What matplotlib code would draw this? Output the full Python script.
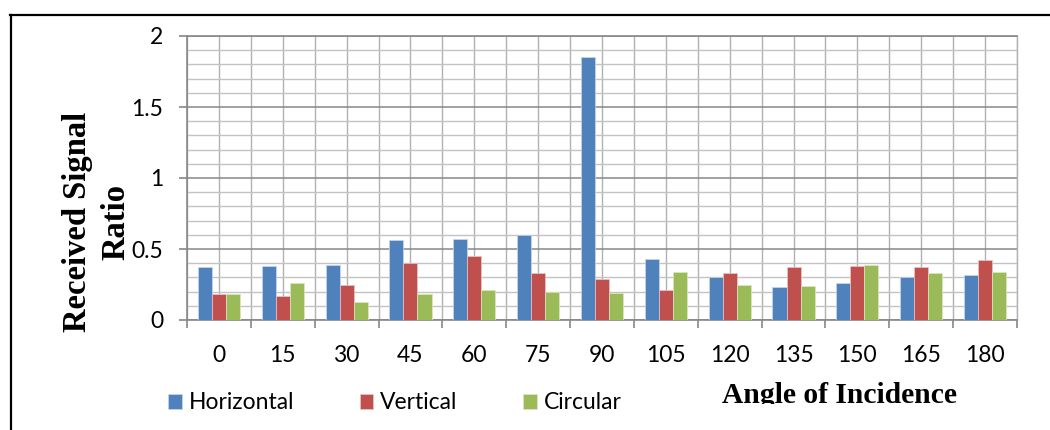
import numpy as np
import matplotlib.pyplot as plt
from matplotlib.lines import Line2D
from matplotlib.patches import Rectangle

# Data
angles = ['0', '15', '30', '45', '60', '75', '90', '105', '120', '135', '150', '165', '180']
horizontal = [0.37, 0.38, 0.39, 0.56, 0.57, 0.60, 1.85, 0.43, 0.30, 0.23, 0.26, 0.30, 0.32]
vertical = [0.18, 0.17, 0.25, 0.40, 0.45, 0.33, 0.29, 0.21, 0.33, 0.37, 0.38, 0.37, 0.42]
circular = [0.18, 0.26, 0.13, 0.18, 0.21, 0.20, 0.19, 0.34, 0.25, 0.24, 0.39, 0.33, 0.34]

plt.rcParams['font.family'] = ['Lato', 'DejaVu Sans']

fig = plt.figure(figsize=(10.5, 4.3), dpi=100)
ax = fig.add_axes([187 / 1050, 110 / 430, 830 / 1050, 284 / 430])

x = np.arange(len(angles))
w = 0.22
ax.bar(x - w, horizontal, w, color='#4F81BD', edgecolor='#c9d7ea', linewidth=0.5, label='Horizontal', zorder=3)
ax.bar(x, vertical, w, color='#C0504D', edgecolor='#e9c6c5', linewidth=0.5, label='Vertical', zorder=3)
ax.bar(x + w, circular, w, color='#9BBB59', edgecolor='#dbe7c6', linewidth=0.5, label='Circular', zorder=3)

ax.set_xlim(-0.5, len(angles) - 0.5)
ax.set_ylim(0, 2)

# y axis: major 0.5 steps with labels, minor 0.1 steps as grid
ax.set_yticks(np.arange(0, 2.01, 0.5))
ax.set_yticklabels(['0', '0.5', '1', '1.5', '2'])
ax.set_yticks(np.arange(0, 2.01, 0.1), minor=True)

# x axis: tick marks on category borders, labels at centres
ax.set_xticks(np.arange(-0.5, len(angles), 1))
ax.set_xticklabels([])
ax.set_xticks(x, minor=True)
ax.set_xticklabels(angles, minor=True)

ax.tick_params(axis='y', which='major', length=6, width=1.2, color='#868686', pad=11, labelsize=16.5)
ax.tick_params(axis='y', which='minor', length=0)
ax.tick_params(axis='x', which='major', length=6, width=1.2, color='#868686')
ax.tick_params(axis='x', which='minor', length=0, pad=18, labelsize=16.5)

ax.grid(axis='x', which='both', color='#b2b2b2', linewidth=1.0, zorder=0)
ax.grid(axis='y', which='major', color='#878787', linewidth=1.1, zorder=0)
ax.grid(axis='y', which='minor', color='#c3c3c3', linewidth=1.0, zorder=0)
ax.set_axisbelow(True)

for side in ['left', 'bottom', 'top']:
    ax.spines[side].set_color('#878787')
    ax.spines[side].set_linewidth(1.2)
ax.spines['right'].set_color('#b2b2b2')
ax.spines['right'].set_linewidth(1.0)

# axis titles
fig.text(97 / 1050, 0.484, 'Received Signal\nRatio', rotation=90, ha='center', va='center',
         multialignment='center', family='Liberation Serif', weight='bold', fontsize=23.5, linespacing=1.3)
xl = fig.text(839 / 1050, 27 / 430, 'Angle of Incidence', ha='center', va='baseline',
              family='Liberation Serif', weight='bold', fontsize=21.3)
xl.set_clip_path(Rectangle((0, 26 / 430), 1, 1, transform=fig.transFigure))

fig.legend(loc='center', bbox_to_anchor=(0.376, 0.063), ncol=3, frameon=False,
           handlelength=0.6, handleheight=0.6, handletextpad=0.3, columnspacing=2.85,
           fontsize=16.5, borderaxespad=0)

# outer chart border (cut on the right and bottom)
fig.add_artist(Line2D([10.5 / 1050, 10.5 / 1050], [0, 1 - 15 / 430], color='black', lw=1.6))
fig.add_artist(Line2D([10 / 1050, 1], [1 - 15 / 430, 1 - 15 / 430], color='black', lw=1.6))

fig.savefig('out.png', dpi=100)
